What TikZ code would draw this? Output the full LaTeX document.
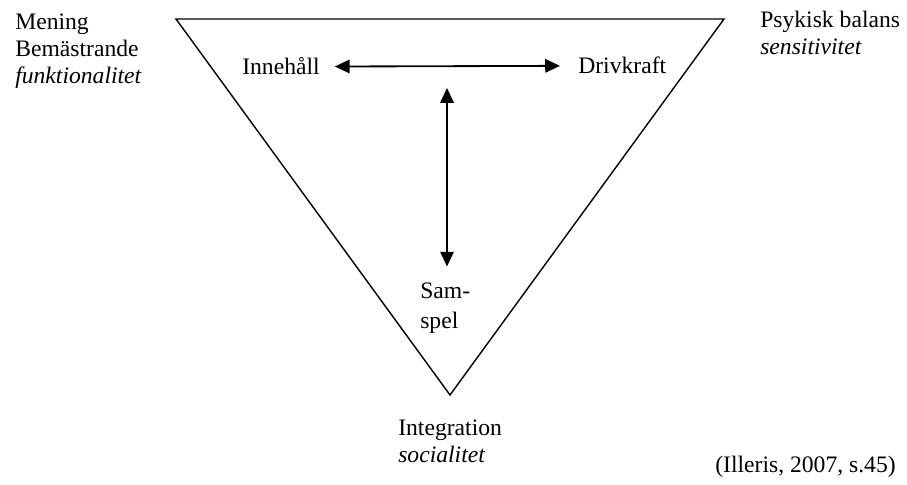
\documentclass[tikz,border=0pt]{standalone}
\usepackage{fontspec}
\setmainfont{Liberation Serif}
\usetikzlibrary{arrows.meta}
\tikzset{
  lbl/.style={inner sep=0pt, align=left, font=\fontsize{16.8}{19.2}\selectfont},
  dblarrow/.style={{Triangle[length=10.5pt,width=9.5pt]}-{Triangle[length=10.5pt,width=9.5pt]}, line width=1.3pt}
}
\begin{document}
\begin{tikzpicture}[x=0.025cm,y=-0.025cm]
    \useasboundingbox (0,0) rectangle (907,485);
    % triangle
    \coordinate (tl) at (176,19);
    \coordinate (tr) at (724,19);
    \coordinate (bt) at (450,395);
    \draw[line width=1pt] (tl) -- (tr) -- (bt) -- cycle;
    % corners (base = last line)
    \node[lbl, anchor=base west] (mening) at (15,84) {Mening\\Bemästrande\\\textit{funktionalitet}};
    \node[lbl, anchor=base west] (psykisk) at (760,55) {Psykisk balans\\\textit{sensitivitet}};
    \node[lbl, anchor=base west] (integration) at (398,462) {Integration\\\textit{socialitet}};
    % inner labels
    \node[lbl, anchor=base west] (innehall) at (242,75) {Innehåll};
    \node[lbl, anchor=base west] (drivkraft) at (578,74) {Drivkraft};
    \node[lbl, anchor=base west, font=\fontsize{16.8}{21}\selectfont] (samspel) at (420,328) {Sam-\\spel};
    \node[lbl, anchor=base west] (kalla) at (715,472) {(Illeris, 2007, s.45)};
    % arrows
    \draw[dblarrow, shorten <=0.37cm, shorten >=0.45cm] (innehall.east) -- (drivkraft.west);
    \coordinate (vtop) at (447,88);
    \draw[dblarrow, shorten >=0.4cm] (vtop) -- (vtop |- samspel.north);
\end{tikzpicture}
\end{document}
